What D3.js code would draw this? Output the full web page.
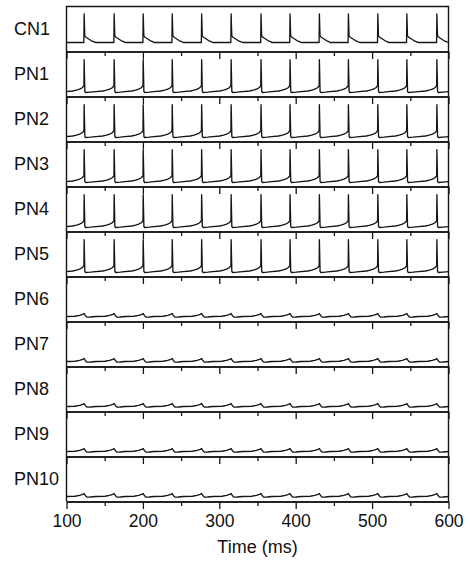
<!DOCTYPE html>
<html>
<head>
<meta charset="utf-8">
<script src="https://cdn.jsdelivr.net/npm/d3@7"></script>
<style>
    body { margin: 0; background: #fff; }
    svg text { font-family: "Liberation Sans", Arial, Helvetica, sans-serif; fill: #111; }
</style>
</head>
<body>
<svg id="chart"></svg>
<script>
'use strict';

// one row per cell, top to bottom
var cells = ['CN1', 'PN1', 'PN2', 'PN3', 'PN4', 'PN5', 'PN6', 'PN7', 'PN8', 'PN9', 'PN10'];
var cellKind = ['cn', 'pn', 'pn', 'pn', 'pn', 'pn', 'weak', 'weak', 'weak', 'weak', 'weak'];

var spikeTimes = [123.1, 162.4, 200.4, 238.4, 276.9, 315.5, 354.6, 392.6, 431.0, 469.0, 507.5, 545.5, 584.8];

// wave shape around one spike: [ms from spike, mV]
var cnWave = [[-24, -56], [-0.4, -56], [0, 20.5], [0.8, -37.3], [2, -41.3], [5, -45.3], [9, -50.7], [13, -54.1], [15.5, -55.7]];
var pnWave = [[-24, -67.2], [-15, -65.3], [-10, -63.2], [-6, -60.5], [-3, -57.3], [-1, -53.3], [-0.3, -50.7], [0, 17.9],
              [0.9, -66.7], [2, -69.3], [8, -68.5], [15.5, -67.2]];
var weakWave = [[-24, -66.7], [-12, -65.9], [-6, -63.5], [-2, -60.8], [0, -58.7], [1.5, -64], [3.5, -68.3], [8, -68], [15.5, -66.7]];

var minorTicks = [150, 250, 350, 450, 550];
var majorTicks = [100, 200, 300, 400, 500, 600];

var svgW = 470, svgH = 562,
    plotL = 66.5, plotR = 448.5, plotT = 6.5, panelH = 45,
    plotB = plotT + panelH * cells.length;

var waves = { cn: cnWave, pn: pnWave, weak: weakWave };

var svg = d3.select('#chart').attr('width', svgW).attr('height', svgH);

var x = d3.scaleLinear().domain([100, 600]).range([plotL, plotR]);

svg.append('clipPath').attr('id', 'plot-clip')
    .append('rect').attr('x', plotL).attr('y', plotT).attr('width', plotR - plotL).attr('height', plotB - plotT);

// stitch the wave at every spike, dropping tail points that run into the next spike's window
function trace(wave) {
    var pts = [],
        preStart = wave[0][0];
    spikeTimes.forEach(function (s, i) {
        var next = spikeTimes[i + 1];
        wave.forEach(function (p) {
            var t = s + p[0];
            if (p[0] > 0 && next !== undefined && t >= next + preStart) return;
            pts.push([t, p[1]]);
        });
    });
    return pts;
}

cells.forEach(function (name, i) {
    var y0 = plotT + i * panelH,
        y1 = y0 + panelH;
    var y = d3.scaleLinear().domain([-80, 40]).range([y1, y0]);
    var g = svg.append('g').attr('class', 'panel');

    var line = d3.line()
        .x(function (d) { return x(d[0]); })
        .y(function (d) { return y(d[1]); });

    g.append('path')
        .datum(trace(waves[cellKind[i]]))
        .attr('clip-path', 'url(#plot-clip)')
        .attr('fill', 'none')
        .attr('stroke', '#151515')
        .attr('stroke-width', 1.35)
        .attr('stroke-linejoin', 'round')
        .attr('d', line);

    g.append('text')
        .attr('x', 14)
        .attr('y', (y0 + y1) / 2)
        .attr('dy', '0.36em')
        .attr('font-size', 18)
        .text(name);

    var last = i === cells.length - 1;

    var minor = g.append('g').attr('transform', 'translate(0,' + y1 + ')')
        .call(d3.axisBottom(x).tickValues(minorTicks).tickSize(4.5).tickSizeOuter(0).tickFormat(''));
    var major = g.append('g').attr('transform', 'translate(0,' + y1 + ')')
        .call(d3.axisBottom(x).tickValues(majorTicks).tickSize(7.5).tickSizeOuter(0).tickPadding(6)
            .tickFormat(last ? d3.format('d') : ''));

    [minor, major].forEach(function (ax) {
        ax.select('.domain').attr('stroke', '#151515').attr('stroke-width', 1.4);
        ax.selectAll('.tick line').attr('stroke', '#151515').attr('stroke-width', 1.3);
        ax.attr('font-family', null).attr('font-size', 17.5);
    });
});

// frame: top edge and the two sides
svg.append('path')
    .attr('fill', 'none')
    .attr('stroke', '#151515')
    .attr('stroke-width', 1.4)
    .attr('d', 'M' + plotL + ',' + plotB + 'V' + plotT + 'H' + plotR + 'V' + plotB);

svg.append('text')
    .attr('x', (plotL + plotR) / 2)
    .attr('y', 553)
    .attr('text-anchor', 'middle')
    .attr('font-size', 18)
    .text('Time (ms)');
</script>
</body>
</html>
